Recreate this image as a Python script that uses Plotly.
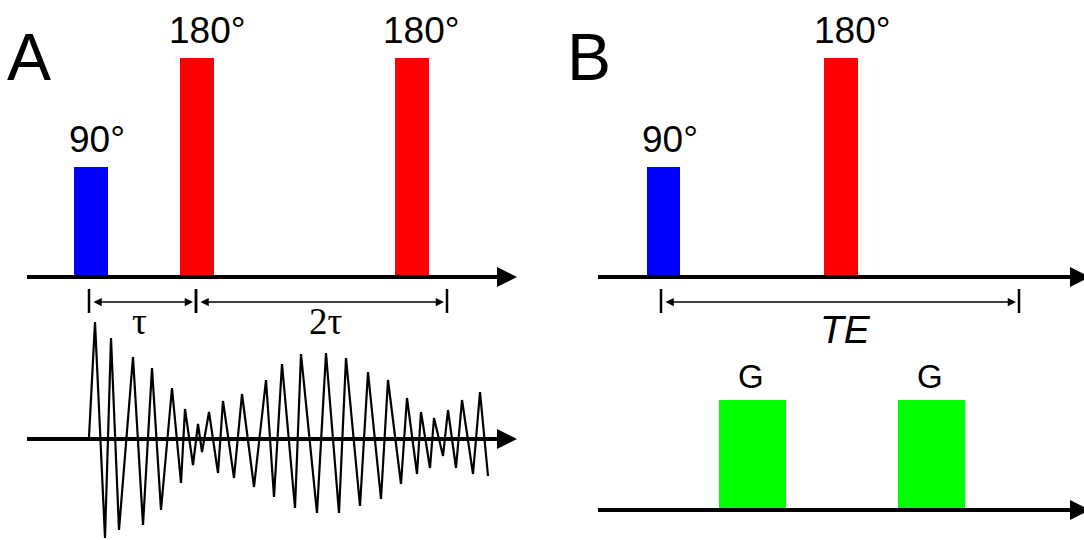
import plotly.graph_objects as go

# ---------------- data (diagram units = page pixels, y grows downward) ----------------
panel_labels = ["A", "B"]
panel_label_x = [29, 589]
panel_label_y = [57, 57]

# RF pulses
rf_x0 = [74, 180, 395, 647, 824]
rf_x1 = [108, 214, 429, 680, 858]
rf_top = [167, 58, 58, 167, 58]
rf_base = [277, 277, 277, 277, 277]
rf_labels = ["90°", "180°", "180°", "90°", "180°"]
rf_label_x = [97, 207, 421, 670, 852]
rf_colors = ["#0000ff", "#ff0000", "#ff0000", "#0000ff", "#ff0000"]

# Gradient pulses (panel B)
g_x0 = [719, 898]
g_x1 = [786, 965]
g_top = [400, 400]
g_base = [510, 510]
g_labels = ["G", "G"]

# Time axes: start x, end (tip) x, y
axis_x0 = [27, 27, 598, 598]
axis_tip = [517, 517, 1090, 1090]
axis_y = [277, 439, 277, 510]

# Interval markers
int_x0 = [89, 196, 661]
int_x1 = [196, 447, 1019]
int_y = [302, 302, 302]
int_labels = ["τ", "2τ", "<i>TE</i>"]
int_label_x = [139, 326, 845]
int_label_y = [321, 321, 329]

# Echo signal (panel A)
sig_x = [89, 95, 105, 111, 119, 133, 143, 152, 161, 172, 181, 185, 193, 198, 202, 209,
         218, 223, 234, 242, 254, 266, 274, 282, 295, 301, 317, 326, 339, 346, 360, 368,
         381, 388, 401, 407, 417, 421, 430, 434, 443, 448, 456, 462, 473, 480, 488]
sig_y = [437, 322, 538, 338, 530, 357, 525, 368, 510, 388, 483, 409, 465, 424, 452, 412,
         473, 401, 478, 394, 487, 380, 497, 364, 508, 354, 513, 353, 513, 358, 506, 372,
         499, 380, 484, 398, 474, 412, 468, 418, 456, 410, 468, 400, 474, 392, 476]

fig = go.Figure()
shapes = []
annotations = []

# axes with arrow heads
for x0, tip, y in zip(axis_x0, axis_tip, axis_y):
    head = 20
    shapes.append(dict(type="line", xref="x", yref="y", x0=x0, x1=tip - head + 2, y0=y, y1=y,
                       line=dict(color="black", width=4)))
    shapes.append(dict(type="path", xref="x", yref="y",
                       path=f"M {tip-head} {y-10} L {tip} {y} L {tip-head} {y+10} Z",
                       fillcolor="black", line=dict(color="black", width=0)))

# signal
fig.add_trace(go.Scatter(x=sig_x, y=sig_y, mode="lines",
                         line=dict(color="black", width=2.2), hoverinfo="skip", showlegend=False))

# RF pulses
for x0, x1, t, b, c, lab, lx in zip(rf_x0, rf_x1, rf_top, rf_base, rf_colors, rf_labels, rf_label_x):
    shapes.append(dict(type="rect", xref="x", yref="y", x0=x0, x1=x1, y0=t, y1=b - 1,
                       fillcolor=c, line=dict(width=0), layer="below"))
    annotations.append(dict(x=lx, y=t - 5, xref="x", yref="y", text=lab, showarrow=False,
                            xanchor="center", yanchor="bottom",
                            font=dict(family="Liberation Sans, Arial", size=37, color="black")))

# gradient pulses
for x0, x1, t, b, lab in zip(g_x0, g_x1, g_top, g_base, g_labels):
    shapes.append(dict(type="rect", xref="x", yref="y", x0=x0, x1=x1, y0=t, y1=b - 1,
                       fillcolor="#00ff00", line=dict(width=0), layer="below"))
    annotations.append(dict(x=(x0 + x1) / 2 - 2, y=t - 3, xref="x", yref="y", text=lab,
                            showarrow=False, xanchor="center", yanchor="bottom",
                            font=dict(family="Liberation Sans, Arial", size=33, color="black")))

# interval markers
for x0, x1, y, lab, lxx, ly in zip(int_x0, int_x1, int_y, int_labels, int_label_x, int_label_y):
    for xx in (x0, x1):
        shapes.append(dict(type="line", xref="x", yref="y", x0=xx, x1=xx, y0=y - 13, y1=y + 11,
                           line=dict(color="black", width=2.5)))
    annotations.append(dict(x=x1 - 3, y=y, ax=x0 + 3, ay=y, xref="x", yref="y",
                            axref="x", ayref="y", text="", showarrow=True,
                            arrowhead=2, startarrowhead=2, arrowside="end+start",
                            arrowsize=1.1, startarrowsize=1.1, arrowwidth=1.5, arrowcolor="black"))
    if lab.startswith("<i>"):
        fnt = dict(family="Liberation Sans, Arial", size=39, color="black")
    else:
        fnt = dict(family="Liberation Serif, Times New Roman", size=37, color="black")
    annotations.append(dict(x=lxx, y=ly, xref="x", yref="y", text=lab,
                            showarrow=False, xanchor="center", yanchor="middle", font=fnt))

# panel labels
for lab, x, y in zip(panel_labels, panel_label_x, panel_label_y):
    annotations.append(dict(x=x, y=y, xref="x", yref="y", text=lab, showarrow=False,
                            xanchor="center", yanchor="middle",
                            font=dict(family="Liberation Sans, Arial", size=66, color="black")))

fig.update_layout(
    width=1084, height=540,
    margin=dict(l=0, r=0, t=0, b=0),
    paper_bgcolor="white", plot_bgcolor="white",
    xaxis=dict(range=[0, 1084], visible=False, fixedrange=True),
    yaxis=dict(range=[540, 0], visible=False, fixedrange=True),
    shapes=shapes, annotations=annotations, showlegend=False,
)

fig.write_html("out.html")
